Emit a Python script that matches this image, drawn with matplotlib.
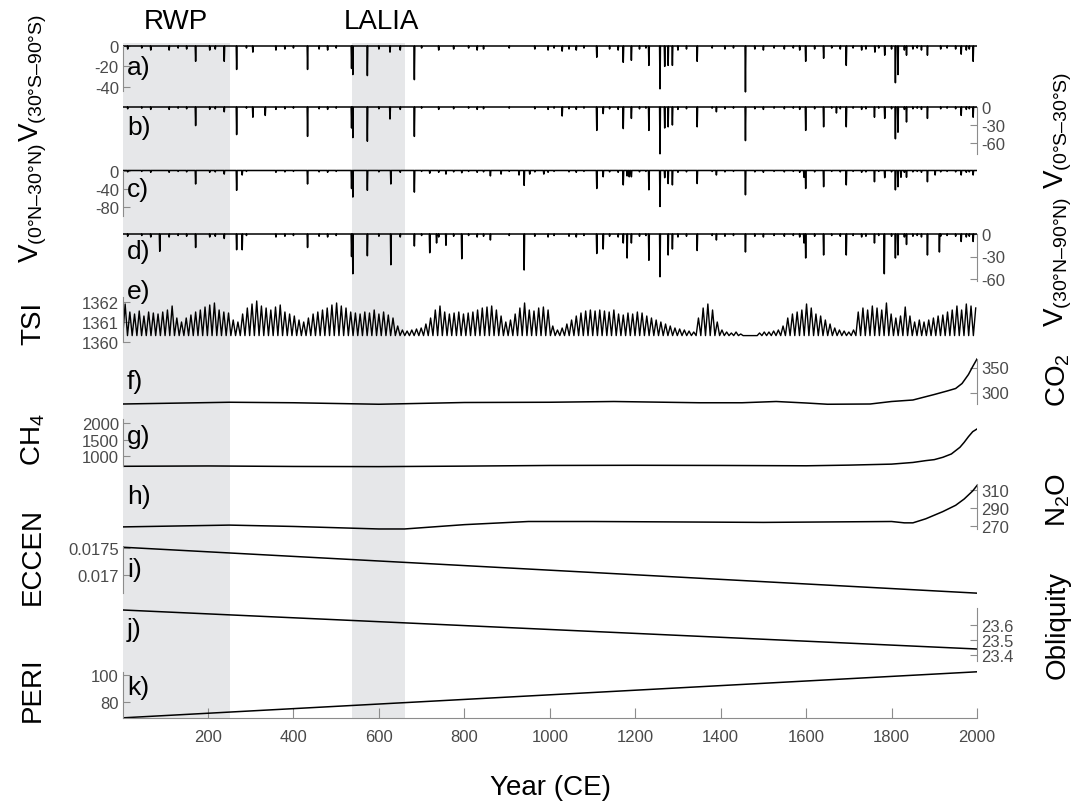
import numpy as np
import matplotlib.pyplot as plt

plt.rcParams['font.family'] = ['Liberation Sans', 'DejaVu Sans']
plt.rcParams['mathtext.fontset'] = 'custom'
plt.rcParams['mathtext.rm'] = 'Liberation Sans'

# ---- volcanic forcing, (year, depth) of eruption spikes ----
VA_YEARS = [171, 238, 267, 305, 433, 536, 539, 573, 626, 683, 1029, 1110, 1172, 1191, 1232, 1258,
            1269, 1277, 1287, 1345, 1458, 1599, 1641, 1694, 1761, 1784, 1809, 1815, 1835, 1884, 1963, 1991]
VA_DEPTH = [15, 15, 23, 6, 23, 22, 28, 29, 6, 33, 5, 11, 16, 14, 19, 42,
            20, 19, 19, 15, 45, 15, 12, 19, 6, 9, 36, 28, 9, 9, 8, 15]

VB_YEARS = [171, 238, 267, 305, 334, 433, 536, 539, 573, 626, 683, 1029, 1110, 1125, 1172, 1191, 1232,
            1258, 1269, 1277, 1287, 1345, 1390, 1458, 1599, 1641, 1671, 1694, 1760, 1784, 1809, 1815,
            1835, 1884, 1963, 1991]
VB_DEPTH = [31, 8, 46, 17, 14, 49, 35, 51, 57, 20, 49, 15, 39, 11, 36, 19, 39,
            78, 35, 33, 30, 33, 8, 56, 39, 33, 10, 33, 17, 19, 53, 42,
            25, 19, 14, 17]

VC_YEARS = [171, 238, 267, 280, 433, 536, 539, 573, 628, 683, 719, 757, 794, 861, 886, 928, 940, 953,
            986, 1110, 1125, 1172, 1181, 1186, 1191, 1232, 1258, 1269, 1277, 1287, 1345, 1390, 1458,
            1595, 1599, 1641, 1694, 1760, 1784, 1809, 1815, 1822, 1835, 1884, 1902, 1963, 1991]
VC_DEPTH = [30, 8, 44, 10, 30, 40, 59, 44, 30, 48, 6, 8, 5, 12, 8, 10, 33, 8,
            8, 40, 14, 32, 12, 14, 14, 43, 80, 16, 29, 32, 29, 10, 54,
            15, 40, 36, 32, 25, 16, 43, 36, 15, 15, 25, 10, 10, 10]

VD_YEARS = [87, 171, 238, 267, 280, 433, 536, 539, 573, 628, 683, 719, 735, 757, 794, 861, 940,
            1110, 1125, 1172, 1181, 1191, 1232, 1258, 1277, 1287, 1345, 1390, 1458, 1595, 1599,
            1641, 1694, 1760, 1783, 1809, 1815, 1835, 1884, 1912, 1963, 1991]
VD_DEPTH = [23, 18, 6, 21, 21, 18, 30, 53, 29, 41, 16, 25, 12, 15, 33, 8, 48,
            26, 20, 12, 32, 12, 35, 57, 28, 20, 22, 8, 24, 12, 32,
            28, 28, 12, 53, 32, 28, 14, 28, 24, 10, 10]

MINOR_YEARS = [12, 45, 66, 109, 130, 150, 204, 217, 290, 359, 380, 400, 460, 480, 500, 600, 650,
               700, 740, 775, 810, 830, 845, 905, 965, 996, 1010, 1045, 1062, 1080, 1140, 1160,
               1210, 1225, 1300, 1320, 1380, 1410, 1430, 1480, 1500, 1525, 1549, 1570, 1585, 1620,
               1660, 1680, 1710, 1730, 1740, 1770, 1800, 1830, 1850, 1860, 1870, 1915, 1930, 1950,
               1975, 1982]
MINOR_DEPTH = [3, 2, 4, 4, 2, 3, 4, 3, 2, 4, 3, 2, 3, 4, 2, 3, 4,
               2, 4, 3, 2, 4, 3, 2, 3, 4, 2, 3, 4, 2, 3, 4,
               3, 2, 4, 3, 2, 3, 2, 3, 4, 2, 3, 2, 4, 3,
               2, 3, 2, 4, 3, 2, 3, 4, 3, 2, 4, 3, 2, 3,
               4, 3]

# ---- total solar irradiance: one peak per ~11-yr cycle, W m-2 ----
TSI_FIRST_PEAK = 6
TSI_CYCLE = 11
TSI_TROUGH = 1360.32
TSI_PEAKS = [
    1361.9, 1361.5, 1361.4, 1361.55, 1361.3, 1361.5, 1361.45, 1361.4, 1361.5,
    1361.6, 1361.8, 1361.2, 1361.0, 1361.2, 1361.35, 1361.5, 1361.6, 1361.75,
    1361.85, 1361.95, 1361.6, 1361.5, 1361.45, 1361.1, 1361.0, 1361.4, 1361.7,
    1361.9, 1362.05, 1361.8, 1361.7, 1361.6, 1361.75, 1361.85, 1361.5, 1361.4,
    1361.3, 1361.1, 1361.0, 1361.2, 1361.4, 1361.5, 1361.6, 1361.7, 1361.85,
    1361.95, 1361.8, 1361.7, 1361.5, 1361.45, 1361.4, 1361.5, 1361.45, 1361.6,
    1361.4, 1361.5, 1361.35, 1361.2, 1360.8, 1360.6, 1360.55, 1360.6, 1360.65,
    1360.7, 1360.9, 1361.2, 1361.6, 1361.8, 1361.5, 1361.4, 1361.45, 1361.5,
    1361.4, 1361.45, 1361.5, 1361.6, 1361.7, 1361.75, 1361.8, 1361.6, 1361.3,
    1361.0, 1361.1, 1361.4, 1361.7, 1361.95, 1361.6, 1361.55, 1361.7, 1361.75,
    1361.6, 1360.8, 1360.6, 1360.7, 1360.9, 1361.1, 1361.3, 1361.45, 1361.55,
    1361.6, 1361.55, 1361.6, 1361.55, 1361.5, 1361.6, 1361.4, 1361.35, 1361.45,
    1361.4, 1361.5, 1361.45, 1361.3, 1361.2, 1361.1, 1361.0, 1360.9, 1360.8,
    1360.7, 1360.65, 1360.6, 1360.55, 1360.5, 1361.2, 1361.7, 1361.9, 1361.6,
    1361.0, 1360.6, 1360.5, 1360.45, 1360.5, 1360.4, 1360.32, 1360.32, 1360.32,
    1360.45, 1360.5, 1360.5, 1360.55, 1360.6, 1360.8, 1361.2, 1361.4, 1361.5,
    1361.6, 1361.9, 1361.7, 1361.4, 1361.3, 1361.1, 1360.9, 1360.7, 1360.6,
    1360.55, 1360.5, 1360.6, 1361.5, 1361.7, 1361.6, 1361.8, 1361.7, 1361.6,
    1361.95, 1361.4, 1361.2, 1361.3, 1361.75, 1361.3, 1361.0, 1361.1, 1361.0,
    1361.1, 1361.2, 1361.3, 1361.35, 1361.5, 1361.6, 1361.8, 1361.6, 1361.9,
    1361.8, 1361.7]

# ---- greenhouse gases ----
CO2_YEARS = [1, 250, 400, 600, 800, 1000, 1150, 1350, 1450, 1530, 1600, 1650, 1750, 1800, 1850,
             1900, 1930, 1950, 1965, 1980, 1990, 2000]
CO2_PPM = [277, 280.5, 279.5, 276.5, 280, 280.5, 282, 279.5, 279.5, 282, 279, 276.5, 277, 282, 285,
           296, 303, 308, 318, 336, 352, 367]

CH4_YEARS = [1, 200, 400, 600, 800, 1000, 1200, 1400, 1600, 1700, 1800, 1850, 1880, 1900, 1920,
             1940, 1960, 1970, 1980, 1990, 2000]
CH4_PPB = [700, 710, 695, 690, 705, 725, 730, 725, 715, 735, 765, 815, 870, 900, 970,
           1070, 1270, 1420, 1590, 1740, 1820]

N2O_YEARS = [1, 250, 400, 600, 660, 800, 950, 1100, 1300, 1500, 1650, 1800, 1830, 1850, 1880, 1920,
             1950, 1970, 1990, 2000]
N2O_PPB = [269, 271, 269.5, 266.7, 266.7, 271.5, 275, 275, 274.5, 274, 274.5, 275, 273.5, 273.5, 278,
           286, 293, 300, 309, 315]

# ---- orbital parameters ----
ORB_YEARS = [1, 2000]
ECCEN = [0.01752, 0.01666]
OBLIQ = [23.70, 23.44]
PERI = [68.5, 102.6]

# ---- shaded periods ----
RWP = (1, 251)
LALIA = (536, 660)

W, H = 1085, 804
L, R = 123, 977
GRAY_TXT = '#4a4a4a'
GRAY_AX = '#8c8c8c'

fig = plt.figure(figsize=(W / 100, H / 100), dpi=100)


def px_axes(top, bot):
    ax = fig.add_axes([L / W, 1 - bot / H, (R - L) / W, (bot - top) / H])
    ax.set_xlim(1, 2000)
    ax.patch.set_alpha(0)
    for sp in ax.spines.values():
        sp.set_visible(False)
    ax.set_xticks([])
    ax.set_yticks([])
    return ax


def panel(top, bot, y0, v0, s, side, ticks, labels, bounds):
    ax = px_axes(top, bot)
    ax.set_ylim(v0 - (bot - y0) / s, v0 + (y0 - top) / s)
    ax.spines[side].set_visible(True)
    ax.spines[side].set_bounds(*bounds)
    ax.spines[side].set_color(GRAY_AX)
    if side == 'right':
        ax.yaxis.tick_right()
    ax.set_yticks(ticks, labels)
    ax.tick_params(axis='y', direction='in', length=5, color=GRAY_AX, labelcolor=GRAY_TXT,
                   labelsize=12, pad=3)
    return ax


def volcanic(years_list, depth_list):
    years = np.arange(1, 2001)
    vals = np.zeros(len(years))
    for y, d in zip(MINOR_YEARS, MINOR_DEPTH):
        vals[y - 1] = -d
    for y, d in zip(years_list, depth_list):
        vals[y - 1] = -d
    return years, vals


# shading behind everything
bg = px_axes(44, 719)
bg.set_ylim(0, 1)
bg.axvspan(*RWP, color='#e6e7e9', lw=0)
bg.axvspan(*LALIA, color='#e6e7e9', lw=0)

lw = 1.1
ax = panel(40, 100, 47, 0, 1.02, 'left', [-40, -20, 0], ['-40', '-20', '0'], (-44, 0))
ax.plot(*volcanic(VA_YEARS, VA_DEPTH), color='k', lw=lw)
ax = panel(100, 162, 108, 0, 0.6, 'right', [-60, -30, 0], ['-60', '-30', '0'], (-78, 0))
ax.plot(*volcanic(VB_YEARS, VB_DEPTH), color='k', lw=lw)
ax = panel(162, 224, 171.5, 0, 0.45, 'left', [-80, -40, 0], ['-80', '-40', '0'], (-100, 0))
ax.plot(*volcanic(VC_YEARS, VC_DEPTH), color='k', lw=lw)
ax = panel(224, 290, 235, 0, 0.75, 'right', [-60, -30, 0], ['-60', '-30', '0'], (-63, 0))
ax.plot(*volcanic(VD_YEARS, VD_DEPTH), color='k', lw=lw)

# TSI zigzag from the cycle peaks
peak_years = TSI_FIRST_PEAK + TSI_CYCLE * np.arange(len(TSI_PEAKS))
tsi_x = np.ravel(np.column_stack([peak_years - TSI_CYCLE / 2, peak_years]))
tsi_y = np.ravel(np.column_stack([np.full(len(TSI_PEAKS), TSI_TROUGH), TSI_PEAKS]))
ax = panel(290, 350, 323, 1361, 20, 'left', [1360, 1361, 1362], ['1360', '1361', '1362'],
           (1360, 1362.25))
ax.plot(tsi_x, tsi_y, color='k', lw=1.0)

ax = panel(350, 412, 393.5, 300, 0.5, 'right', [300, 350], ['300', '350'], (277, 368))
ax.plot(CO2_YEARS, CO2_PPM, color='k', lw=lw)
ax = panel(412, 472, 457.3, 1000, 0.0333, 'left', [1000, 1500, 2000], ['1000', '1500', '2000'],
           (700, 2120))
ax.plot(CH4_YEARS, CH4_PPB, color='k', lw=lw)
ax = panel(472, 537, 527, 270, 0.9, 'right', [270, 290, 310], ['270', '290', '310'],
           (266.7, 316.7))
ax.plot(N2O_YEARS, N2O_PPB, color='k', lw=lw)
ax = panel(537, 600, 576, 0.017, 53400, 'left', [0.017, 0.0175], ['0.017', '0.0175'],
           (0.01666, 0.01752))
ax.plot(ORB_YEARS, ECCEN, color='k', lw=lw)
ax = panel(600, 665, 656, 23.4, 150, 'right', [23.4, 23.5, 23.6], ['23.4', '23.5', '23.6'],
           (23.36, 23.71))
ax.plot(ORB_YEARS, OBLIQ, color='k', lw=lw)
ax = panel(665, 719, 703.3, 80, 1.35, 'left', [80, 100], ['80', '100'], (68.5, 102.7))
ax.plot(ORB_YEARS, PERI, color='k', lw=lw)
ax.spines['bottom'].set_visible(True)
ax.spines['bottom'].set_color(GRAY_AX)
ax.set_xticks([200, 400, 600, 800, 1000, 1200, 1400, 1600, 1800, 2000])
ax.tick_params(axis='x', direction='in', length=7, color=GRAY_AX, labelcolor=GRAY_TXT,
               labelsize=12, pad=8)


def ftext(x, y, s, **kw):
    fig.text(x / W, 1 - y / H, s, **kw)


for lab, y in zip(['a)', 'b)', 'c)', 'd)', 'e)', 'f)', 'g)', 'h)', 'i)', 'j)', 'k)'],
                  [68, 128, 190, 252, 292, 382, 437, 497, 570, 630, 688]):
    ftext(127, y, lab, ha='left', va='center', fontsize=19)

ftext(176, 22, 'RWP', ha='center', va='center', fontsize=20)
ftext(381, 22, 'LALIA', ha='center', va='center', fontsize=20)
ftext(551, 788, 'Year (CE)', ha='center', va='center', fontsize=20)

left_labels = [(r'V$_{\mathregular{(30°S–90°S)}}$', 78), (r'V$_{\mathregular{(0°N–30°N)}}$', 203),
               ('TSI', 323), (r'CH$_{\mathregular{4}}$', 440), ('ECCEN', 557), ('PERI', 690)]
for s, y in left_labels:
    ftext(33, y, s, ha='center', va='center', rotation=90, fontsize=20)

right_labels = [(r'V$_{\mathregular{(0°S–30°S)}}$', 130), (r'V$_{\mathregular{(30°N–90°N)}}$', 262),
                (r'CO$_{\mathregular{2}}$', 380), (r'N$_{\mathregular{2}}$O', 500), ('Obliquity', 625)]
for s, y in right_labels:
    ftext(1058, y, s, ha='center', va='center', rotation=90, fontsize=20)

fig.savefig('out.png', dpi=100)
